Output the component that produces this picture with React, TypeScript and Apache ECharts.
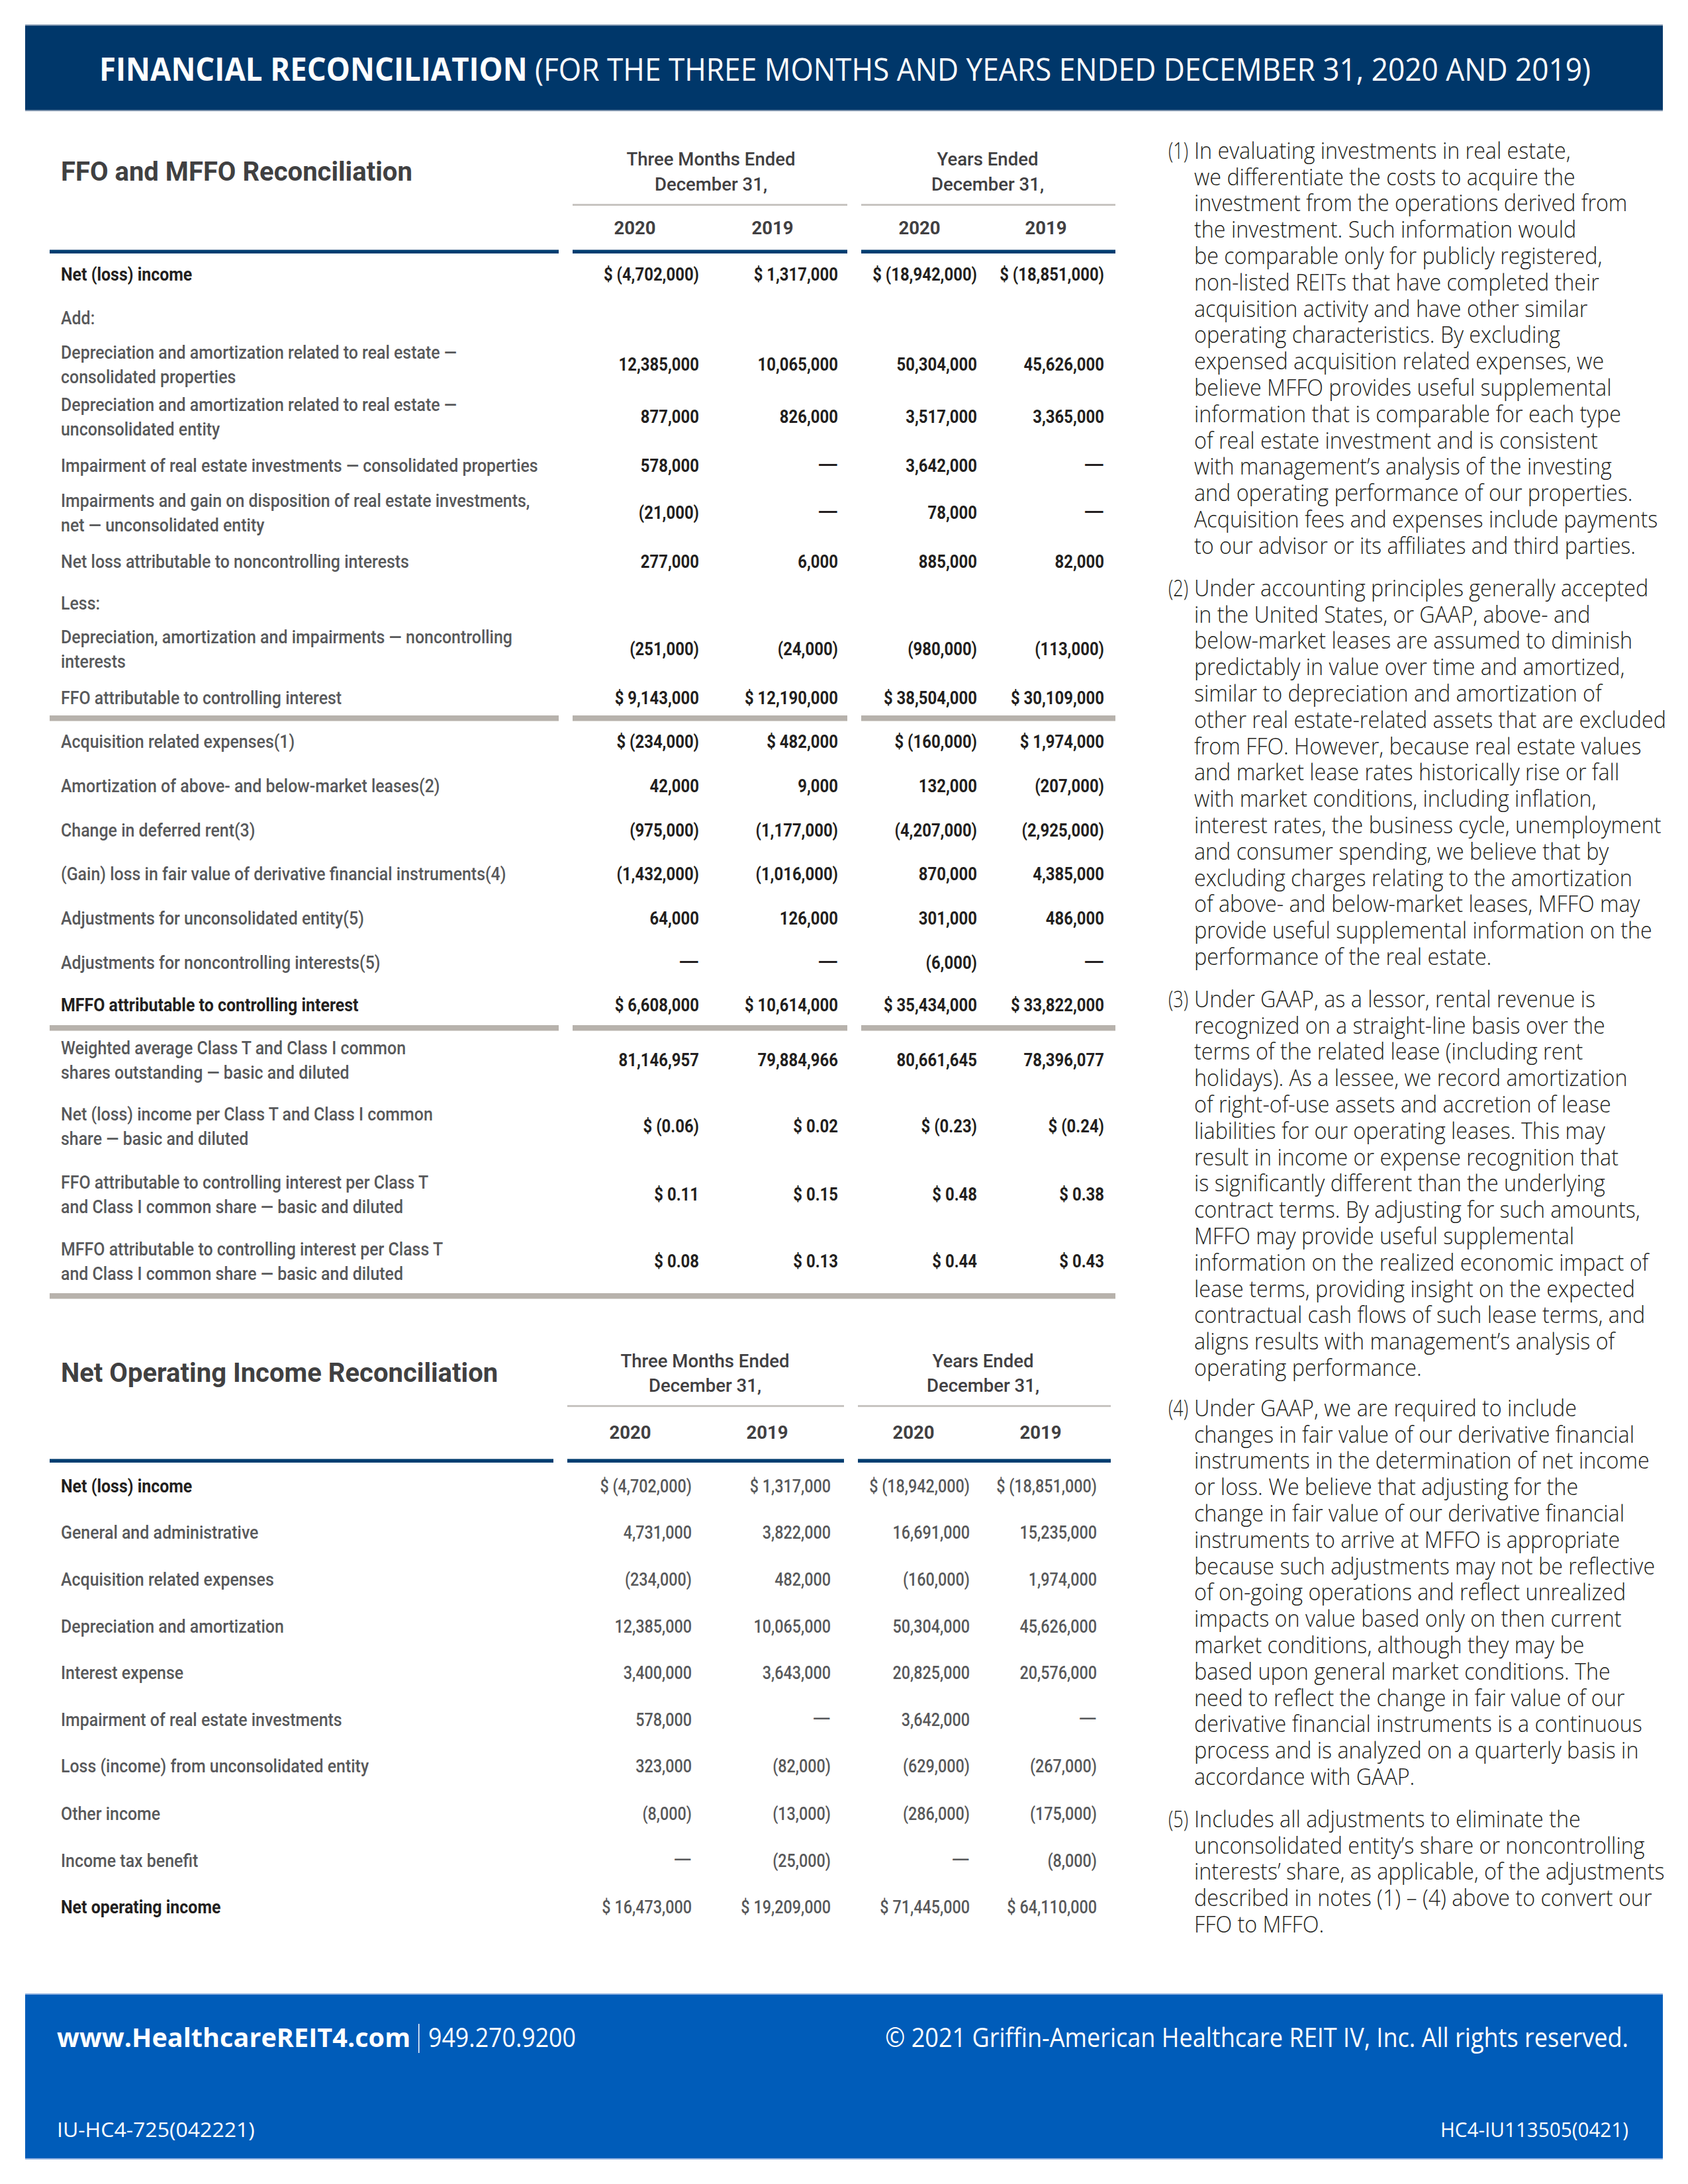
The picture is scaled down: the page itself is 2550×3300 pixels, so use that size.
import React, { useEffect, useRef } from 'react';
import * as echarts from 'echarts';

// ---------------- DATA ----------------
const pageTitleBold = 'FINANCIAL RECONCILIATION';
const pageTitleRest = '(FOR THE THREE MONTHS AND YEARS ENDED DECEMBER 31, 2020 AND 2019)';

const periodHeads = ['Three Months Ended', 'Years Ended'];
const periodSub = 'December 31,';
const yearLabels = ['2020', '2019', '2020', '2019'];

const ffoTitle = 'FFO and MFFO Reconciliation';
const ffoLabels = [
  'Net (loss) income',
  'Add:',
  'Depreciation and amortization related to real estate —\nconsolidated properties',
  'Depreciation and amortization related to real estate —\nunconsolidated entity',
  'Impairment of real estate investments — consolidated properties',
  'Impairments and gain on disposition of real estate investments,\nnet — unconsolidated entity',
  'Net loss attributable to noncontrolling interests',
  'Less:',
  'Depreciation, amortization and impairments — noncontrolling\ninterests',
  'FFO attributable to controlling interest',
  'Acquisition related expenses(1)',
  'Amortization of above- and below-market leases(2)',
  'Change in deferred rent(3)',
  '(Gain) loss in fair value of derivative financial instruments(4)',
  'Adjustments for unconsolidated entity(5)',
  'Adjustments for noncontrolling interests(5)',
  'MFFO attributable to controlling interest',
  'Weighted average Class T and Class I common\nshares outstanding — basic and diluted',
  'Net (loss) income per Class T and Class I common\nshare — basic and diluted',
  'FFO attributable to controlling interest per Class T\nand Class I common share — basic and diluted',
  'MFFO attributable to controlling interest per Class T\nand Class I common share — basic and diluted',
];
const ffoRowKind = ['strong', 'note', 'plain', 'plain', 'plain', 'plain', 'plain', 'note', 'plain', 'plain', 'plain', 'plain', 'plain', 'plain', 'plain', 'plain', 'strong', 'plain', 'plain', 'plain', 'plain'];
const ffoUnit = ['usd', '', 'num', 'num', 'num', 'num', 'num', '', 'num', 'usd', 'usd', 'num', 'num', 'num', 'num', 'num', 'usd', 'num', 'eps', 'eps', 'eps'];
const ffoThreeMonths2020 = [-4702000, null, 12385000, 877000, 578000, -21000, 277000, null, -251000, 9143000, -234000, 42000, -975000, -1432000, 64000, null, 6608000, 81146957, -0.06, 0.11, 0.08];
const ffoThreeMonths2019 = [1317000, null, 10065000, 826000, null, null, 6000, null, -24000, 12190000, 482000, 9000, -1177000, -1016000, 126000, null, 10614000, 79884966, 0.02, 0.15, 0.13];
const ffoYears2020 = [-18942000, null, 50304000, 3517000, 3642000, 78000, 885000, null, -980000, 38504000, -160000, 132000, -4207000, 870000, 301000, -6000, 35434000, 80661645, -0.23, 0.48, 0.44];
const ffoYears2019 = [-18851000, null, 45626000, 3365000, null, null, 82000, null, -113000, 30109000, 1974000, -207000, -2925000, 4385000, 486000, null, 33822000, 78396077, -0.24, 0.38, 0.43];

const noiTitle = 'Net Operating Income Reconciliation';
const noiLabels = [
  'Net (loss) income',
  'General and administrative',
  'Acquisition related expenses',
  'Depreciation and amortization',
  'Interest expense',
  'Impairment of real estate investments',
  'Loss (income) from unconsolidated entity',
  'Other income',
  'Income tax benefit',
  'Net operating income',
];
const noiRowKind = ['strong', 'plain', 'plain', 'plain', 'plain', 'plain', 'plain', 'plain', 'plain', 'strong'];
const noiUnit = ['usd', 'num', 'num', 'num', 'num', 'num', 'num', 'num', 'num', 'usd'];
const noiThreeMonths2020 = [-4702000, 4731000, -234000, 12385000, 3400000, 578000, 323000, -8000, null, 16473000];
const noiThreeMonths2019 = [1317000, 3822000, 482000, 10065000, 3643000, null, -82000, -13000, -25000, 19209000];
const noiYears2020 = [-18942000, 16691000, -160000, 50304000, 20825000, 3642000, -629000, -286000, null, 71445000];
const noiYears2019 = [-18851000, 15235000, 1974000, 45626000, 20576000, null, -267000, -175000, -8000, 64110000];

const footnoteMarks = ['(1)', '(2)', '(3)', '(4)', '(5)'];
const footnoteLines = [
  [
    'In evaluating investments in real estate,',
    'we differentiate the costs to acquire the',
    'investment from the operations derived from',
    'the investment. Such information would',
    'be comparable only for publicly registered,',
    'non-listed REITs that have completed their',
    'acquisition activity and have other similar',
    'operating characteristics. By excluding',
    'expensed acquisition related expenses, we',
    'believe MFFO provides useful supplemental',
    'information that is comparable for each type',
    'of real estate investment and is consistent',
    'with management’s analysis of the investing',
    'and operating performance of our properties.',
    'Acquisition fees and expenses include payments',
    'to our advisor or its affiliates and third parties.',
  ],
  [
    'Under accounting principles generally accepted',
    'in the United States, or GAAP, above- and',
    'below-market leases are assumed to diminish',
    'predictably in value over time and amortized,',
    'similar to depreciation and amortization of',
    'other real estate-related assets that are excluded',
    'from FFO. However, because real estate values',
    'and market lease rates historically rise or fall',
    'with market conditions, including inflation,',
    'interest rates, the business cycle, unemployment',
    'and consumer spending, we believe that by',
    'excluding charges relating to the amortization',
    'of above- and below-market leases, MFFO may',
    'provide useful supplemental information on the',
    'performance of the real estate.',
  ],
  [
    'Under GAAP, as a lessor, rental revenue is',
    'recognized on a straight-line basis over the',
    'terms of the related lease (including rent',
    'holidays). As a lessee, we record amortization',
    'of right-of-use assets and accretion of lease',
    'liabilities for our operating leases. This may',
    'result in income or expense recognition that',
    'is significantly different than the underlying',
    'contract terms. By adjusting for such amounts,',
    'MFFO may provide useful supplemental',
    'information on the realized economic impact of',
    'lease terms, providing insight on the expected',
    'contractual cash flows of such lease terms, and',
    'aligns results with management’s analysis of',
    'operating performance.',
  ],
  [
    'Under GAAP, we are required to include',
    'changes in fair value of our derivative financial',
    'instruments in the determination of net income',
    'or loss. We believe that adjusting for the',
    'change in fair value of our derivative financial',
    'instruments to arrive at MFFO is appropriate',
    'because such adjustments may not be reflective',
    'of on-going operations and reflect unrealized',
    'impacts on value based only on then current',
    'market conditions, although they may be',
    'based upon general market conditions. The',
    'need to reflect the change in fair value of our',
    'derivative financial instruments is a continuous',
    'process and is analyzed on a quarterly basis in',
    'accordance with GAAP.',
  ],
  [
    'Includes all adjustments to eliminate the',
    'unconsolidated entity’s share or noncontrolling',
    'interests’ share, as applicable, of the adjustments',
    'described in notes (1) – (4) above to convert our',
    'FFO to MFFO.',
  ],
];

const footerSite = 'www.HealthcareREIT4.com';
const footerPhone = '949.270.9200';
const footerCopy = '© 2021 Griffin-American Healthcare REIT IV, Inc. All rights reserved.';
const footerCodeLeft = 'IU-HC4-725(042221)';
const footerCodeRight = 'HC4-IU113505(0421)';

// ---------------- LAYOUT ----------------
const W = 2550;
const H = 3300;
const ffoRowY = [414, 480, 550, 629, 703, 774, 848, 911, 980, 1054, 1120, 1187, 1254, 1320, 1387, 1454, 1518, 1601, 1701, 1804, 1905];
const ffoColRight = [1056, 1266, 1476, 1668];
const ffoYearX = [959, 1167, 1389, 1580];
const ffoHeadX = [1074, 1492];
const noiRowY = [2245, 2315, 2386, 2457, 2527, 2598, 2668, 2740, 2811, 2881];
const noiColRight = [1045, 1255, 1465, 1657];
const noiYearX = [952, 1159, 1380, 1572];
const noiHeadX = [1065, 1485];
const noteStartY = [227, 888, 1509, 2127, 2748];
const NOTE_LH = 39.8;

const TABLE_FONT = '"Liberation Sans Narrow", Roboto, "DejaVu Sans", sans-serif';
const NOTE_FONT = '"Open Sans", "Noto Sans", sans-serif';
const HEAD_FONT = '"Open Sans", "Noto Sans", sans-serif';

// ---------------- HELPERS ----------------
let measureCtx: CanvasRenderingContext2D | null = null;
function measure(text: string, size: number, weight: string | number, family: string): number {
  if (!measureCtx) measureCtx = document.createElement('canvas').getContext('2d');
  measureCtx!.font = `${weight} ${size}px ${family}`;
  return measureCtx!.measureText(text).width;
}
function fit(text: string, size: number, weight: string | number, family: string, target: number): number {
  const w = measure(text, size, weight, family);
  return w > 0 ? target / w : 1;
}

function groupNum(n: number): string {
  return Math.round(n).toString().replace(/\B(?=(\d{3})+(?!\d))/g, ',');
}
function fmt(v: number | null, unit: string): string {
  if (v === null || v === undefined) return '—';
  const neg = v < 0;
  const a = Math.abs(v);
  let body = unit === 'eps' ? a.toFixed(2) : groupNum(a);
  if (neg) body = `(${body})`;
  if (unit === 'usd' || unit === 'eps') return `$ ${body}`;
  return body;
}

type TOpt = { size: number; weight?: string | number; family: string; fill: string; align?: string; scale?: number };
function T(x: number, y: number, text: string, o: TOpt) {
  const align = o.align || 'left';
  return {
    type: 'text',
    x,
    y,
    scaleX: o.scale || 1,
    silent: true,
    z: 10,
    style: {
      text,
      fontSize: o.size,
      fontWeight: o.weight || 'normal',
      fontFamily: o.family,
      fill: o.fill,
      align,
      verticalAlign: 'middle',
      textAlign: align,
      textVerticalAlign: 'middle',
    },
  };
}
function R(x: number, y: number, w: number, h: number, fill: string, z = 1) {
  return { type: 'rect', silent: true, z, shape: { x, y, width: w, height: h }, style: { fill } };
}

const LABEL_GRAY = '#58595b';
const DARK = '#231f20';
const HEAD_GRAY = '#414042';
const NAVY_RULE = '#003e71';
const GRAY_RULE = '#b7b2ac';

function buildElements() {
  const els: any[] = [];

  // scales (condense fonts to match the reference widths)
  const sLabel = fit('Impairment of real estate investments — consolidated properties', 28, 500, TABLE_FONT, 721);
  const sValue = fit('$ (18,942,000)', 28, 'bold', TABLE_FONT, 158);
  const sValue2 = fit('$ (18,942,000)', 28, 500, TABLE_FONT, 152);
  const sDash = fit('—', 28, 'bold', TABLE_FONT, 31);
  const sDash2 = fit('—', 28, 500, TABLE_FONT, 28);
  const sHead = fit('Three Months Ended', 27, 500, TABLE_FONT, 255);
  const sSection = fit(ffoTitle, 40, 'bold', TABLE_FONT, 531);
  const sNote = fit('investment from the operations derived from', 34, 300, NOTE_FONT, 655);
  const sMark = fit('(1)', 34, 300, NOTE_FONT, 30);

  // ---- header band ----
  els.push(R(38, 37, 2474, 131, '#00376a'));
  els.push(R(38, 37, 2474, 2, '#7d93ad', 2));
  els.push(R(38, 166, 2474, 2, '#7d93ad', 2));
  els.push(T(150, 104, pageTitleBold, { size: 48, weight: 'bold', family: HEAD_FONT, fill: '#ffffff', scale: fit(pageTitleBold, 48, 'bold', HEAD_FONT, 647) }));
  els.push(T(808, 104, pageTitleRest, { size: 48, weight: 'normal', family: HEAD_FONT, fill: '#ffffff', scale: fit(pageTitleRest, 48, 'normal', HEAD_FONT, 1595) }));

  // ---- table builder ----
  const table = (
    title: string, titleY: number, headY: number[], headX: number[], thinY: number, thinSegs: number[][],
    yearY: number, yearX: number[], navyY: number, navySegs: number[][],
    labels: string[], kinds: string[], units: string[], cols: (number | null)[][], rowY: number[], colRight: number[],
    valueBold: boolean,
  ) => {
    els.push(T(92, titleY, title, { size: 40, weight: 'bold', family: TABLE_FONT, fill: '#404041', scale: sSection }));
    periodHeads.forEach((h, i) => {
      els.push(T(headX[i], headY[0], h, { size: 27, weight: 500, family: TABLE_FONT, fill: HEAD_GRAY, align: 'center', scale: sHead }));
      els.push(T(headX[i], headY[1], periodSub, { size: 27, weight: 500, family: TABLE_FONT, fill: HEAD_GRAY, align: 'center', scale: sHead }));
    });
    thinSegs.forEach(([a, b]) => els.push(R(a, thinY, b - a, 3, '#c8c5c1')));
    yearLabels.forEach((y, i) => {
      els.push(T(yearX[i], yearY, y, { size: 27, weight: 'bold', family: TABLE_FONT, fill: HEAD_GRAY, align: 'center', scale: sHead }));
    });
    navySegs.forEach(([a, b]) => {
      els.push(R(a, navyY, b - a, 6, NAVY_RULE));
      els.push(R(a, navyY, b - a, 1, '#7791ad', 2));
    });
    labels.forEach((lab, r) => {
      const kind = kinds[r];
      const lines = lab.split('\n');
      const y0 = rowY[r] - (lines.length - 1) * 18.5;
      lines.forEach((ln, k) => {
        els.push(T(92, y0 + k * 37, ln, {
          size: 28,
          weight: kind === 'strong' ? 'bold' : 500,
          family: TABLE_FONT,
          fill: kind === 'strong' ? DARK : LABEL_GRAY,
          scale: sLabel,
        }));
      });
      if (kind === 'note') return;
      cols.forEach((col, c) => {
        const v = col[r];
        const s = fmt(v, units[r]);
        const isDash = s === '—';
        els.push(T(colRight[c], rowY[r], s, {
          size: 28,
          weight: valueBold ? 'bold' : 500,
          family: TABLE_FONT,
          fill: valueBold ? DARK : LABEL_GRAY,
          align: 'right',
          scale: isDash ? (valueBold ? sDash : sDash2) : (valueBold ? sValue : sValue2),
        }));
      });
    });
  };

  const segs1 = [[75, 844], [865, 1280], [1301, 1685]];
  table(
    ffoTitle, 260, [241, 279], ffoHeadX, 308, [[865, 1280], [1301, 1685]],
    345, ffoYearX, 377, segs1,
    ffoLabels, ffoRowKind, ffoUnit, [ffoThreeMonths2020, ffoThreeMonths2019, ffoYears2020, ffoYears2019], ffoRowY, ffoColRight,
    true,
  );
  // gray separators in FFO table
  [[1081], [1549]].forEach(([y]) => {
    segs1.forEach(([a, b]) => {
      els.push(R(a, y, b - a, 8, GRAY_RULE));
      els.push(R(a, y + 8, b - a, 1, '#dedbd7'));
    });
  });
  els.push(R(75, 1954, 1610, 8, GRAY_RULE));
  els.push(R(75, 1962, 1610, 1, '#dedbd7'));

  const segs2 = [[75, 836], [857, 1275], [1296, 1678]];
  table(
    noiTitle, 2075, [2057, 2094], noiHeadX, 2123, [[857, 1275], [1296, 1678]],
    2165, noiYearX, 2204, segs2,
    noiLabels, noiRowKind, noiUnit, [noiThreeMonths2020, noiThreeMonths2019, noiYears2020, noiYears2019], noiRowY, noiColRight,
    false,
  );

  // ---- footnotes ----
  footnoteLines.forEach((lines, i) => {
    els.push(T(1765, noteStartY[i], footnoteMarks[i], { size: 34, weight: 300, family: NOTE_FONT, fill: DARK, scale: sMark }));
    lines.forEach((ln, k) => {
      els.push(T(1804, noteStartY[i] + k * NOTE_LH, ln, { size: 34, weight: 300, family: NOTE_FONT, fill: DARK, scale: sNote }));
    });
  });

  // ---- footer ----
  els.push(R(38, 3012, 2474, 251, '#005cb9'));
  els.push(R(38, 3012, 2474, 2, '#8fb1e0', 2));
  els.push(R(38, 3261, 2474, 2, '#8fb1e0', 2));
  els.push(T(86, 3077, footerSite, { size: 40, weight: 'bold', family: HEAD_FONT, fill: '#ffffff', scale: fit(footerSite, 40, 'bold', HEAD_FONT, 534) }));
  els.push(R(632, 3058, 1.5, 44, '#ffffff', 3));
  els.push(T(647, 3077, footerPhone, { size: 40, weight: 'normal', family: HEAD_FONT, fill: '#ffffff', scale: fit(footerPhone, 40, 'normal', HEAD_FONT, 223) }));
  els.push(T(2460, 3077, footerCopy, { size: 40, weight: 'normal', family: HEAD_FONT, fill: '#ffffff', align: 'right', scale: fit(footerCopy, 40, 'normal', HEAD_FONT, 1123) }));
  els.push(T(86, 3217, footerCodeLeft, { size: 31, weight: 'normal', family: HEAD_FONT, fill: '#ffffff', scale: fit(footerCodeLeft, 31, 'normal', HEAD_FONT, 299) }));
  els.push(T(2460, 3217, footerCodeRight, { size: 31, weight: 'normal', family: HEAD_FONT, fill: '#ffffff', align: 'right', scale: fit(footerCodeRight, 31, 'normal', HEAD_FONT, 284) }));

  return els;
}

export default function App() {
  const ref = useRef<HTMLDivElement>(null);
  useEffect(() => {
    if (!ref.current) return;
    const chart = echarts.init(ref.current, null, { renderer: 'svg', width: W, height: H });
    chart.setOption({
      animation: false,
      backgroundColor: '#ffffff',
      graphic: { elements: buildElements() },
    });
    return () => chart.dispose();
  }, []);
  return <div ref={ref} style={{ position: 'absolute', left: 0, top: 0, width: W, height: H }} />;
}
